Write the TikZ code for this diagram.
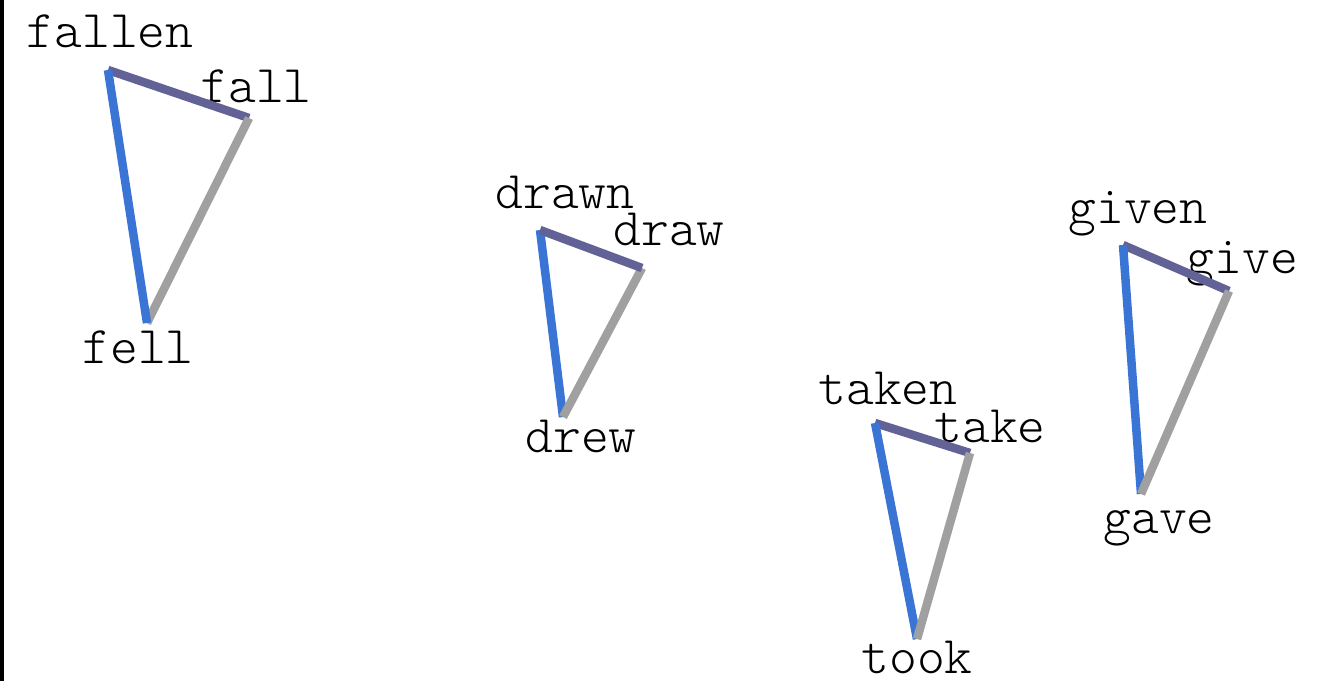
\documentclass[tikz,border=0pt]{standalone}
\usepackage{fontspec}
\setmonofont{lmmonolt10-regular.otf}
\definecolor{cblue}{HTML}{3A75D6}
\definecolor{cpurple}{HTML}{626296}
\definecolor{cgray}{HTML}{A0A0A0}
\begin{document}
\begin{tikzpicture}[x=1pt,y=-1pt,
  lbl/.style={anchor=base,inner sep=0pt,font=\ttfamily\fontsize{53}{56}\selectfont},
  edge/.style={line width=8.5pt,line cap=butt},
  pp/.style={edge,cpurple},
  pt/.style={edge,cblue},
  pa/.style={edge,cgray}]
\useasboundingbox (0,0) rectangle (1321,681);
\fill[black] (0,0) rectangle (3.5,681);
% triangle 1
\coordinate (v1a) at (108,70);
\coordinate (v1b) at (249,118);
\coordinate (v1c) at (147,323);
\node[lbl] (l1a) at (110,47) {fallen};
\node[lbl] (l1b) at (256,102) {fall};
\node[lbl] (l1c) at (138,363) {fell};
\draw[pp] (v1a) -- (v1b);
\draw[pa] (v1b) -- (v1c);
\draw[pt] (v1a) -- (v1c);
% triangle 2
\coordinate (v2a) at (540,230);
\coordinate (v2b) at (642,268);
\coordinate (v2c) at (563,417);
\node[lbl] (l2a) at (565,208) {drawn};
\node[lbl] (l2b) at (669,245) {draw};
\node[lbl] (l2c) at (581,452) {drew};
\draw[pt] (v2a) -- (v2c);
\draw[pa] (v2b) -- (v2c);
\draw[pp] (v2a) -- (v2b);
% triangle 3
\coordinate (v3a) at (875,423);
\coordinate (v3b) at (970,453);
\coordinate (v3c) at (917,639);
\node[lbl] (l3a) at (888,404) {taken};
\node[lbl] (l3b) at (990,442) {take};
\node[lbl] (l3c) at (917,673) {took};
\draw[pp] (v3a) -- (v3b);
\draw[pt] (v3a) -- (v3c);
\draw[pa] (v3b) -- (v3c);
% triangle 4
\coordinate (v4a) at (1123,245);
\coordinate (v4b) at (1229,291);
\coordinate (v4c) at (1141,494);
\node[lbl] (l4a) at (1138,223) {given};
\node[lbl] (l4b) at (1242.5,273) {give};
\node[lbl] (l4c) at (1159,533) {gave};
\draw[pp] (v4a) -- (v4b);
\draw[pt] (v4a) -- (v4c);
\draw[pa] (v4b) -- (v4c);
\end{tikzpicture}
\end{document}
